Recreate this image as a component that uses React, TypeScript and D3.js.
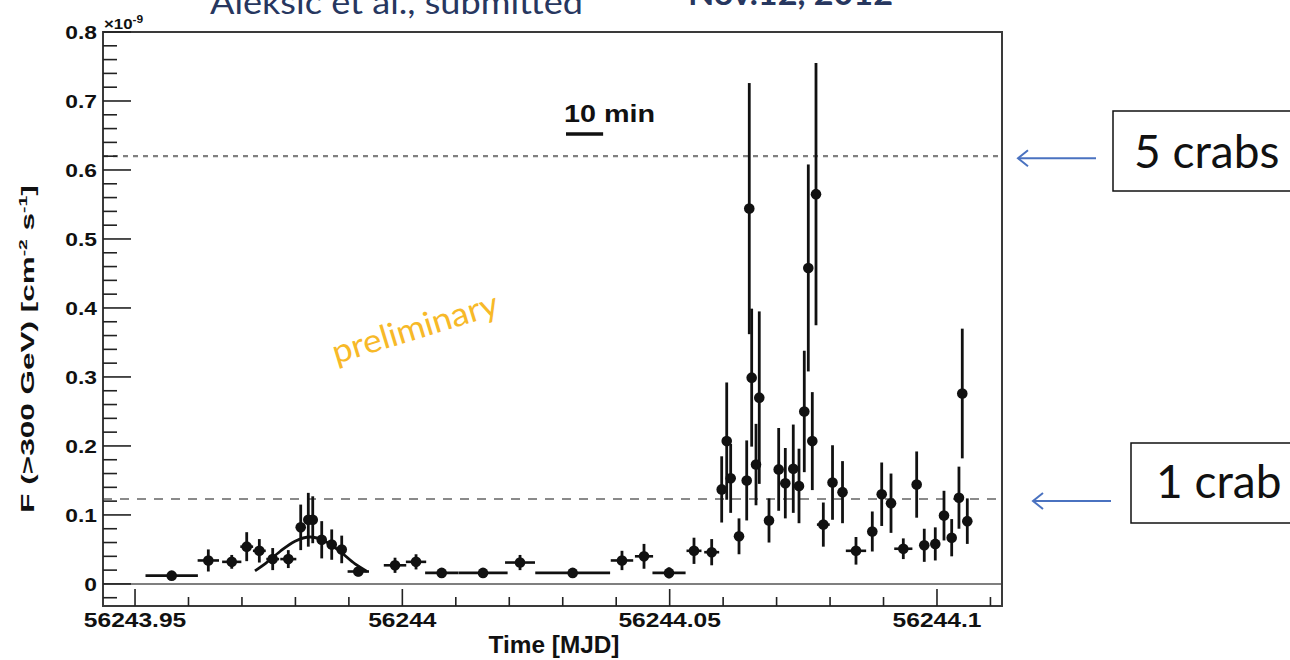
import React from "react";
import * as d3 from "d3";

// ---- data (flux in units of 1e-9 cm^-2 s^-1) ----
const mjd = [
  56243.95686, 56243.96371, 56243.96809, 56243.97089, 56243.97325, 56243.97575, 56243.97867, 56243.98099,
  56243.98241, 56243.98324, 56243.98492, 56243.98679, 56243.98866, 56243.99176, 56243.99863, 56244.00256,
  56244.00736, 56244.01509, 56244.02201, 56244.03186, 56244.04108, 56244.0452, 56244.04988, 56244.05455,
  56244.05786, 56244.05973, 56244.06067, 56244.06141, 56244.06297, 56244.06441, 56244.06489, 56244.06534,
  56244.06615, 56244.06676, 56244.06858, 56244.07039, 56244.07163, 56244.07312, 56244.07419, 56244.07518,
  56244.07593, 56244.07668, 56244.07737, 56244.07874, 56244.08046, 56244.08233, 56244.08485, 56244.0879,
  56244.08966, 56244.0914, 56244.0937, 56244.0962, 56244.09762, 56244.09968, 56244.10131, 56244.10275,
  56244.10411, 56244.10473, 56244.10567,
];
const flux = [
  0.012, 0.034, 0.032, 0.054, 0.048, 0.036, 0.036, 0.082, 0.093, 0.093,
  0.064, 0.057, 0.05, 0.018, 0.027, 0.032, 0.016, 0.016, 0.031, 0.016,
  0.034, 0.04, 0.016, 0.048, 0.046, 0.137, 0.207, 0.153, 0.069, 0.15,
  0.544, 0.299, 0.173, 0.27, 0.092, 0.166, 0.146, 0.167, 0.142, 0.25,
  0.458, 0.207, 0.565, 0.086, 0.147, 0.133, 0.048, 0.076, 0.13, 0.117,
  0.051, 0.144, 0.056, 0.058, 0.099, 0.067, 0.125, 0.276, 0.091,
];
const fluxErr = [
  0.004, 0.016, 0.01, 0.021, 0.017, 0.016, 0.013, 0.033, 0.039, 0.034,
  0.027, 0.022, 0.02, 0.007, 0.011, 0.011, 0.006, 0.006, 0.011, 0.004,
  0.014, 0.018, 0.008, 0.019, 0.019, 0.048, 0.085, 0.05, 0.026, 0.058,
  0.182, 0.1, 0.059, 0.125, 0.032, 0.06, 0.051, 0.064, 0.054, 0.088,
  0.15, 0.071, 0.19, 0.032, 0.054, 0.045, 0.02, 0.029, 0.046, 0.043,
  0.015, 0.048, 0.024, 0.024, 0.036, 0.027, 0.045, 0.094, 0.033,
];
const mjdErr = [
  0.0049, 0.002, 0.0018, 0.0012, 0.0012, 0.0012, 0.0015, 0.0008, 0.0008, 0.0008,
  0.0008, 0.0008, 0.0008, 0.002, 0.0021, 0.0019, 0.0031, 0.0046, 0.0028, 0.007,
  0.0021, 0.0017, 0.0031, 0.0014, 0.0014, 0.0006, 0.0006, 0.0006, 0.0006, 0.0006,
  0.0006, 0.0006, 0.0006, 0.0006, 0.0006, 0.0006, 0.0006, 0.0006, 0.0006, 0.0006,
  0.0006, 0.0006, 0.0006, 0.0012, 0.0006, 0.0006, 0.0019, 0.0006, 0.0006, 0.0006,
  0.0017, 0.0006, 0.0006, 0.0006, 0.0006, 0.0006, 0.0006, 0.0006, 0.0006,
];

// fitted curve
const fitMjd = [56243.97244, 56243.97431, 56243.97712, 56243.97993, 56243.98273, 56243.98554, 56243.98834, 56243.99115, 56243.99339];
const fitFlux = [0.019, 0.029, 0.047, 0.062, 0.068, 0.062, 0.047, 0.029, 0.018];

const xTickValues = [56243.95, 56244, 56244.05, 56244.1];
const xTickLabels = ["56243.95", "56244", "56244.05", "56244.1"];
const yTickValues = [0, 0.1, 0.2, 0.3, 0.4, 0.5, 0.6, 0.7, 0.8];
const yTickLabels = ["0", "0.1", "0.2", "0.3", "0.4", "0.5", "0.6", "0.7", "0.8"];

const crabLevels = [0.123, 0.62];
const crabLabels = ["1 crab", "5 crabs"];

const scaleBarStart = 56244.03061;
const scaleBarDays = 10 / 1440;

const X_DOMAIN: [number, number] = [56243.94401, 56244.11216];
const Y_DOMAIN: [number, number] = [-0.032, 0.8];

export default function App() {
  const L = 103, R = 1002, T = 32, B = 606;
  const x = d3.scaleLinear().domain(X_DOMAIN).range([L, R]);
  const y = d3.scaleLinear().domain(Y_DOMAIN).range([B, T]);

  const near = (v: number, step: number) => Math.abs(Math.round(v / step) * step - v) < 1e-6;
  const xMinor = x.ticks(17);
  const yMinor = y.ticks(40);

  const fitLine = d3
    .line<number>()
    .x((_, i) => x(fitMjd[i]))
    .y((d) => y(d))
    .curve(d3.curveCatmullRom.alpha(0.5));

  const labelFont = "'Liberation Sans', Arial, Helvetica, sans-serif";
  const calibri = "Lato, 'Open Sans', sans-serif";
  const navy = "#27375f";
  const arrowBlue = "#4a72c0";

  // annotation geometry
  const boxes = [
    { level: crabLevels[1], label: crabLabels[1], bx: 1113, by: 111, bh: 80, tx: 1134, ty: 168, ax0: 1096, ax1: 1018 },
    { level: crabLevels[0], label: crabLabels[0], bx: 1131, by: 443, bh: 80, tx: 1156, ty: 498, ax0: 1111, ax1: 1033 },
  ];

  return (
    <svg width={1290} height={660} style={{ position: "absolute", left: 0, top: 0, background: "#fff" }}>
      <rect x={0} y={0} width={1290} height={660} fill="#fff" />

      {/* header text, cut at top as in the source */}
      <text x={210} y={14} fontFamily={calibri} fontSize={32} fill={navy} textLength={373} lengthAdjust="spacingAndGlyphs">
        Aleksic et al., submitted
      </text>
      <text x={688} y={5} fontFamily={calibri} fontSize={32} fontWeight="bold" fill={navy} textLength={205} lengthAdjust="spacingAndGlyphs">
        Nov.12, 2012
      </text>

      {/* crab reference lines */}
      <line x1={L} x2={R} y1={y(crabLevels[1])} y2={y(crabLevels[1])} stroke="#808080" strokeWidth={2.2} strokeDasharray="5,5" />
      <line x1={L} x2={R} y1={y(crabLevels[0])} y2={y(crabLevels[0])} stroke="#8a8a8a" strokeWidth={2} strokeDasharray="9,8" />

      {/* zero line */}
      <line x1={L} x2={R} y1={y(0)} y2={y(0)} stroke="#555" strokeWidth={1.5} />

      {/* frame */}
      <rect x={L} y={T} width={R - L} height={B - T} fill="none" stroke="#3a3a3a" strokeWidth={2} />

      {/* y ticks */}
      {yMinor.map((v, i) => {
        const major = near(v, 0.1);
        return <line key={"yt" + i} x1={L} x2={L + (major ? 28 : 14)} y1={y(v)} y2={y(v)} stroke="#222" strokeWidth={1.6} />;
      })}
      {yTickValues.map((v, i) => (
        <text key={"yl" + i} transform={`translate(97,${y(v) + 7}) scale(1.2,1)`} textAnchor="end" fontFamily={labelFont} fontWeight="bold" fontSize={19} fill="#111">
          {yTickLabels[i]}
        </text>
      ))}
      <text transform={`translate(104,29) scale(1.2,1)`} fontFamily={labelFont} fontWeight="bold" fontSize={14} fill="#111">
        ×10<tspan dy={-6} fontSize={10}>-9</tspan>
      </text>

      {/* x ticks */}
      {xMinor.map((v, i) => {
        const major = near(v, 0.05);
        return <line key={"xt" + i} x1={x(v)} x2={x(v)} y1={B} y2={B - (major ? 17 : 9)} stroke="#222" strokeWidth={1.6} />;
      })}
      {xTickValues.map((v, i) => (
        <text key={"xl" + i} transform={`translate(${x(v)},627) scale(1.17,1)`} textAnchor="middle" fontFamily={labelFont} fontWeight="bold" fontSize={21} fill="#111">
          {xTickLabels[i]}
        </text>
      ))}

      {/* axis titles */}
      <text transform="translate(554,653) scale(1.06,1)" textAnchor="middle" fontFamily={labelFont} fontWeight="bold" fontSize={23} fill="#111">
        Time [MJD]
      </text>
      <text transform="translate(34,349) rotate(-90) scale(1.75,1)" textAnchor="middle" fontFamily={labelFont} fontWeight="bold" fontSize={18} fill="#111">
        F (&gt;300 GeV) [cm<tspan dy={-7} fontSize={11}>-2</tspan>
        <tspan dy={7}> s</tspan>
        <tspan dy={-7} fontSize={11}>-1</tspan>
        <tspan dy={7}>]</tspan>
      </text>

      {/* 10 min scale */}
      <text transform="translate(564,122) scale(1.25,1)" fontFamily={labelFont} fontWeight="bold" fontSize={23} fill="#111">
        10 min
      </text>
      <line x1={x(scaleBarStart)} x2={x(scaleBarStart + scaleBarDays)} y1={134} y2={134} stroke="#111" strokeWidth={3.5} />

      {/* preliminary */}
      <text transform="translate(336,364) rotate(-17)" fontFamily={calibri} fontSize={33} fill="#f7b928" textLength={172} lengthAdjust="spacingAndGlyphs">
        preliminary
      </text>

      {/* fit curve */}
      <path d={fitLine(fitFlux) || ""} fill="none" stroke="#111" strokeWidth={2.8} />

      {/* data points */}
      {mjd.map((m, i) => (
        <g key={"p" + i}>
          <line x1={x(m)} x2={x(m)} y1={y(flux[i] - fluxErr[i])} y2={y(flux[i] + fluxErr[i])} stroke="#111" strokeWidth={2.8} />
          <line x1={x(m - mjdErr[i])} x2={x(m + mjdErr[i])} y1={y(flux[i])} y2={y(flux[i])} stroke="#111" strokeWidth={2.6} />
          <circle cx={x(m)} cy={y(flux[i])} r={5.3} fill="#111" />
        </g>
      ))}

      {/* annotations */}
      {boxes.map((b, i) => (
        <g key={"ann" + i}>
          <rect x={b.bx} y={b.by} width={1300 - b.bx} height={b.bh} fill="#fff" stroke="#111" strokeWidth={1.5} />
          <text x={b.tx} y={b.ty} fontFamily={calibri} fontSize={46} fill="#111">
            {b.label}
          </text>
          <line x1={b.ax0} x2={b.ax1} y1={y(b.level) + 2} y2={y(b.level) + 2} stroke={arrowBlue} strokeWidth={2} />
          <polyline
            points={`${b.ax1 + 10},${y(b.level) + 2 - 8} ${b.ax1},${y(b.level) + 2} ${b.ax1 + 10},${y(b.level) + 2 + 8}`}
            fill="none"
            stroke={arrowBlue}
            strokeWidth={2}
          />
        </g>
      ))}
    </svg>
  );
}
